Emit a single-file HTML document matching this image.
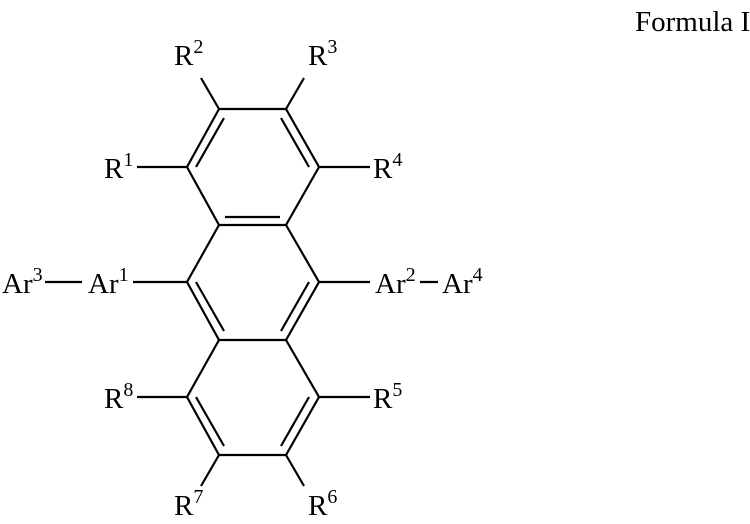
<!DOCTYPE html>
<html><head><style>
html,body{margin:0;padding:0;background:#fff;}
svg{display:block;}
text{font-family:"Liberation Serif",serif;font-size:29px;fill:#000;}
.s{font-size:20px;}
</style></head><body>
<svg width="750" height="524" viewBox="0 0 750 524">
<g stroke="#000" stroke-width="2.2" fill="none" stroke-linecap="butt">
<polyline points="219,109 286,109 319,167 286,225 219,225 187,167 219,109"/>
<polyline points="219,225 187,282 219,340 286,340 319,282 286,225"/>
<polyline points="219,340 187,397 219,455 286,455 319,397 286,340"/>
<line x1="196" y1="167" x2="224" y2="118"/>
<line x1="281" y1="118" x2="309" y2="167"/>
<line x1="225" y1="217" x2="280" y2="217"/>
<line x1="196" y1="282" x2="224" y2="331"/>
<line x1="309" y1="282" x2="281" y2="331"/>
<line x1="196" y1="397" x2="224" y2="446"/>
<line x1="309" y1="397" x2="281" y2="446"/>
<line x1="187" y1="167" x2="137" y2="167"/>
<line x1="319" y1="167" x2="370" y2="167"/>
<line x1="187" y1="282" x2="133" y2="282"/>
<line x1="319" y1="282" x2="370" y2="282"/>
<line x1="187" y1="397" x2="137" y2="397"/>
<line x1="319" y1="397" x2="370" y2="397"/>
<line x1="219" y1="109" x2="201" y2="78"/>
<line x1="286" y1="109" x2="304" y2="78"/>
<line x1="219" y1="455" x2="201" y2="486"/>
<line x1="286" y1="455" x2="304" y2="486"/>
<line x1="45" y1="282" x2="82" y2="282"/>
<line x1="420" y1="282" x2="438" y2="282"/>
</g>
<text x="635" y="31">Formula I</text>
<text x="174" y="65">R<tspan class="s" dy="-12">2</tspan></text>
<text x="308" y="65">R<tspan class="s" dy="-12">3</tspan></text>
<text x="104" y="178">R<tspan class="s" dy="-12">1</tspan></text>
<text x="373" y="178">R<tspan class="s" dy="-12">4</tspan></text>
<text x="2" y="293">Ar<tspan class="s" dy="-12">3</tspan></text>
<text x="88" y="293">Ar<tspan class="s" dy="-12">1</tspan></text>
<text x="375" y="293">Ar<tspan class="s" dy="-12">2</tspan></text>
<text x="442" y="293">Ar<tspan class="s" dy="-12">4</tspan></text>
<text x="104" y="408">R<tspan class="s" dy="-12">8</tspan></text>
<text x="373" y="408">R<tspan class="s" dy="-12">5</tspan></text>
<text x="174" y="515">R<tspan class="s" dy="-12">7</tspan></text>
<text x="308" y="515">R<tspan class="s" dy="-12">6</tspan></text>
</svg>
</body></html>
